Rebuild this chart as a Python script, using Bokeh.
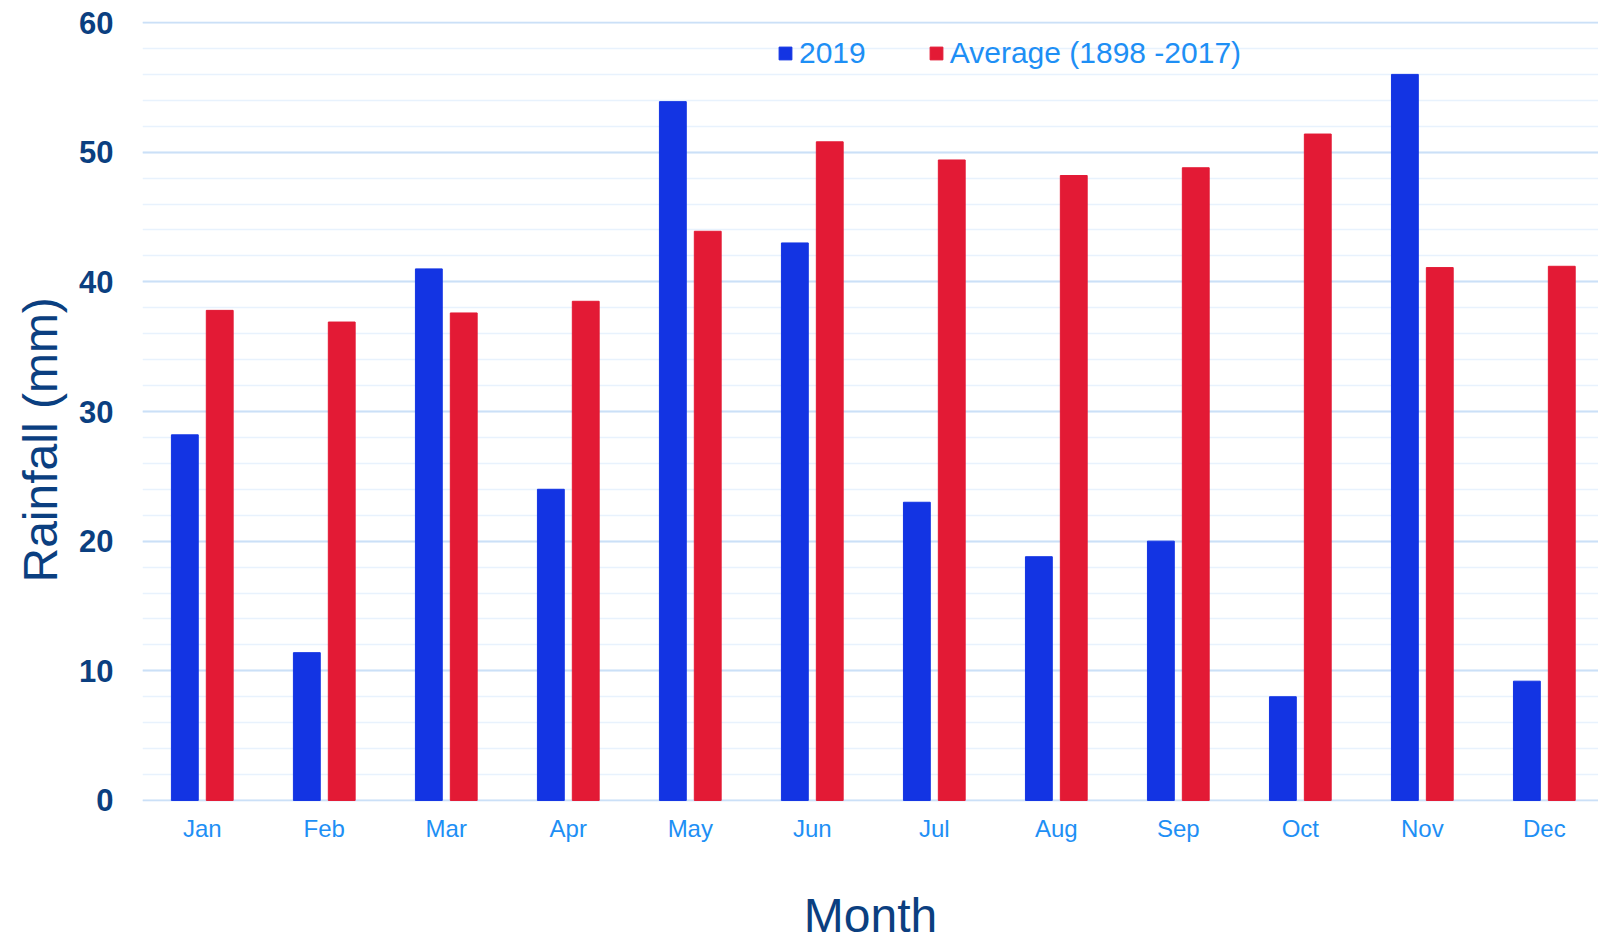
from bokeh.plotting import figure
from bokeh.models import (Range1d, FixedTicker, SingleIntervalTicker, Legend, LegendItem,
                          ColumnDataSource, CustomJSTickFormatter, Title)
from bokeh.transform import dodge
from bokeh.embed import file_html
from bokeh.resources import INLINE

months = ["Jan", "Feb", "Mar", "Apr", "May", "Jun", "Jul", "Aug", "Sep", "Oct", "Nov", "Dec"]
rain_2019 = [28.2, 11.4, 41.0, 24.0, 53.9, 43.0, 23.0, 18.8, 20.0, 8.0, 56.0, 9.2]
rain_avg = [37.8, 36.9, 37.6, 38.5, 43.9, 50.8, 49.4, 48.2, 48.8, 51.4, 41.1, 41.2]
y_ticks = [0, 10, 20, 30, 40, 50, 60]

FONT = "Liberation Sans"
NAVY = "#0b3f80"
LIGHT = "#1e8ff5"
BLUE = "#1334e3"
RED = "#e31a35"

xpos = [i + 0.5 for i in range(len(months))]
source = ColumnDataSource(dict(x=xpos, y2019=rain_2019, yavg=rain_avg))

p = figure(width=1598, height=944,
           x_range=Range1d(0.01, 11.944), y_range=Range1d(y_ticks[0] - 0.08, y_ticks[-1] + 0.08),
           output_backend="svg", toolbar_location=None,
           min_border_left=142, min_border_right=0, min_border_top=21, min_border_bottom=143)

r1 = p.vbar(x=dodge("x", -0.143, range=p.x_range), top="y2019", width=0.22,
            source=source, fill_color=BLUE, line_color=BLUE)
r2 = p.vbar(x=dodge("x", 0.143, range=p.x_range), top="yavg", width=0.22,
            source=source, fill_color=RED, line_color=RED)

p.outline_line_color = None
p.background_fill_color = "white"
p.border_fill_color = "white"

# grid
yt = SingleIntervalTicker(interval=10, num_minor_ticks=5)
p.yaxis.ticker = yt
p.ygrid.ticker = yt
p.ygrid.grid_line_color = "#cbe0f7"
p.ygrid.grid_line_width = 1.8
p.ygrid.minor_grid_line_color = "#e8f2fd"
p.ygrid.minor_grid_line_width = 1.6
p.xgrid.grid_line_color = None

# y axis
p.yaxis.axis_line_color = None
p.yaxis.major_tick_line_color = None
p.yaxis.minor_tick_line_color = None
p.yaxis.major_tick_out = 0
p.yaxis.major_label_standoff = 25
p.yaxis.major_label_text_font = FONT
p.yaxis.major_label_text_font_size = "31px"
p.yaxis.major_label_text_font_style = "bold"
p.yaxis.major_label_text_color = NAVY
p.yaxis.axis_label_standoff = 0

# y title on the left, positioned from the bottom of the frame
ytitle = Title(text="Rainfall (mm)", align="left", offset=219, standoff=19,
               text_font=FONT, text_font_size="48px", text_font_style="normal",
               text_color=NAVY)
p.add_layout(ytitle, "left")

# x axis
p.xaxis.ticker = FixedTicker(ticks=xpos)
p.xaxis.formatter = CustomJSTickFormatter(args=dict(labels=months),
                                          code="return labels[Math.round(tick - 0.5)];")
p.xaxis.axis_line_color = None
p.xaxis.major_tick_line_color = None
p.xaxis.minor_tick_line_color = None
p.xaxis.major_tick_out = 0
p.xaxis.major_label_standoff = 13
p.xaxis.major_label_text_font = FONT
p.xaxis.major_label_text_font_size = "24px"
p.xaxis.major_label_text_color = LIGHT
p.xaxis.axis_label = "Month"
p.xaxis.axis_label_text_font = FONT
p.xaxis.axis_label_text_font_size = "48px"
p.xaxis.axis_label_text_font_style = "normal"
p.xaxis.axis_label_text_color = NAVY
p.xaxis.axis_label_standoff = 44

legend = Legend(items=[LegendItem(label="2019", renderers=[r1]),
                       LegendItem(label="Average (1898 -2017)", renderers=[r2])],
                orientation="horizontal", location=(635, 731),
                label_text_font=FONT, label_text_font_size="30px", label_text_color=LIGHT,
                glyph_width=16, glyph_height=16, label_standoff=6, spacing=62,
                padding=0, margin=0, border_line_color=None, background_fill_alpha=0)
p.add_layout(legend)

open("out.html", "w").write(file_html(p, INLINE))
